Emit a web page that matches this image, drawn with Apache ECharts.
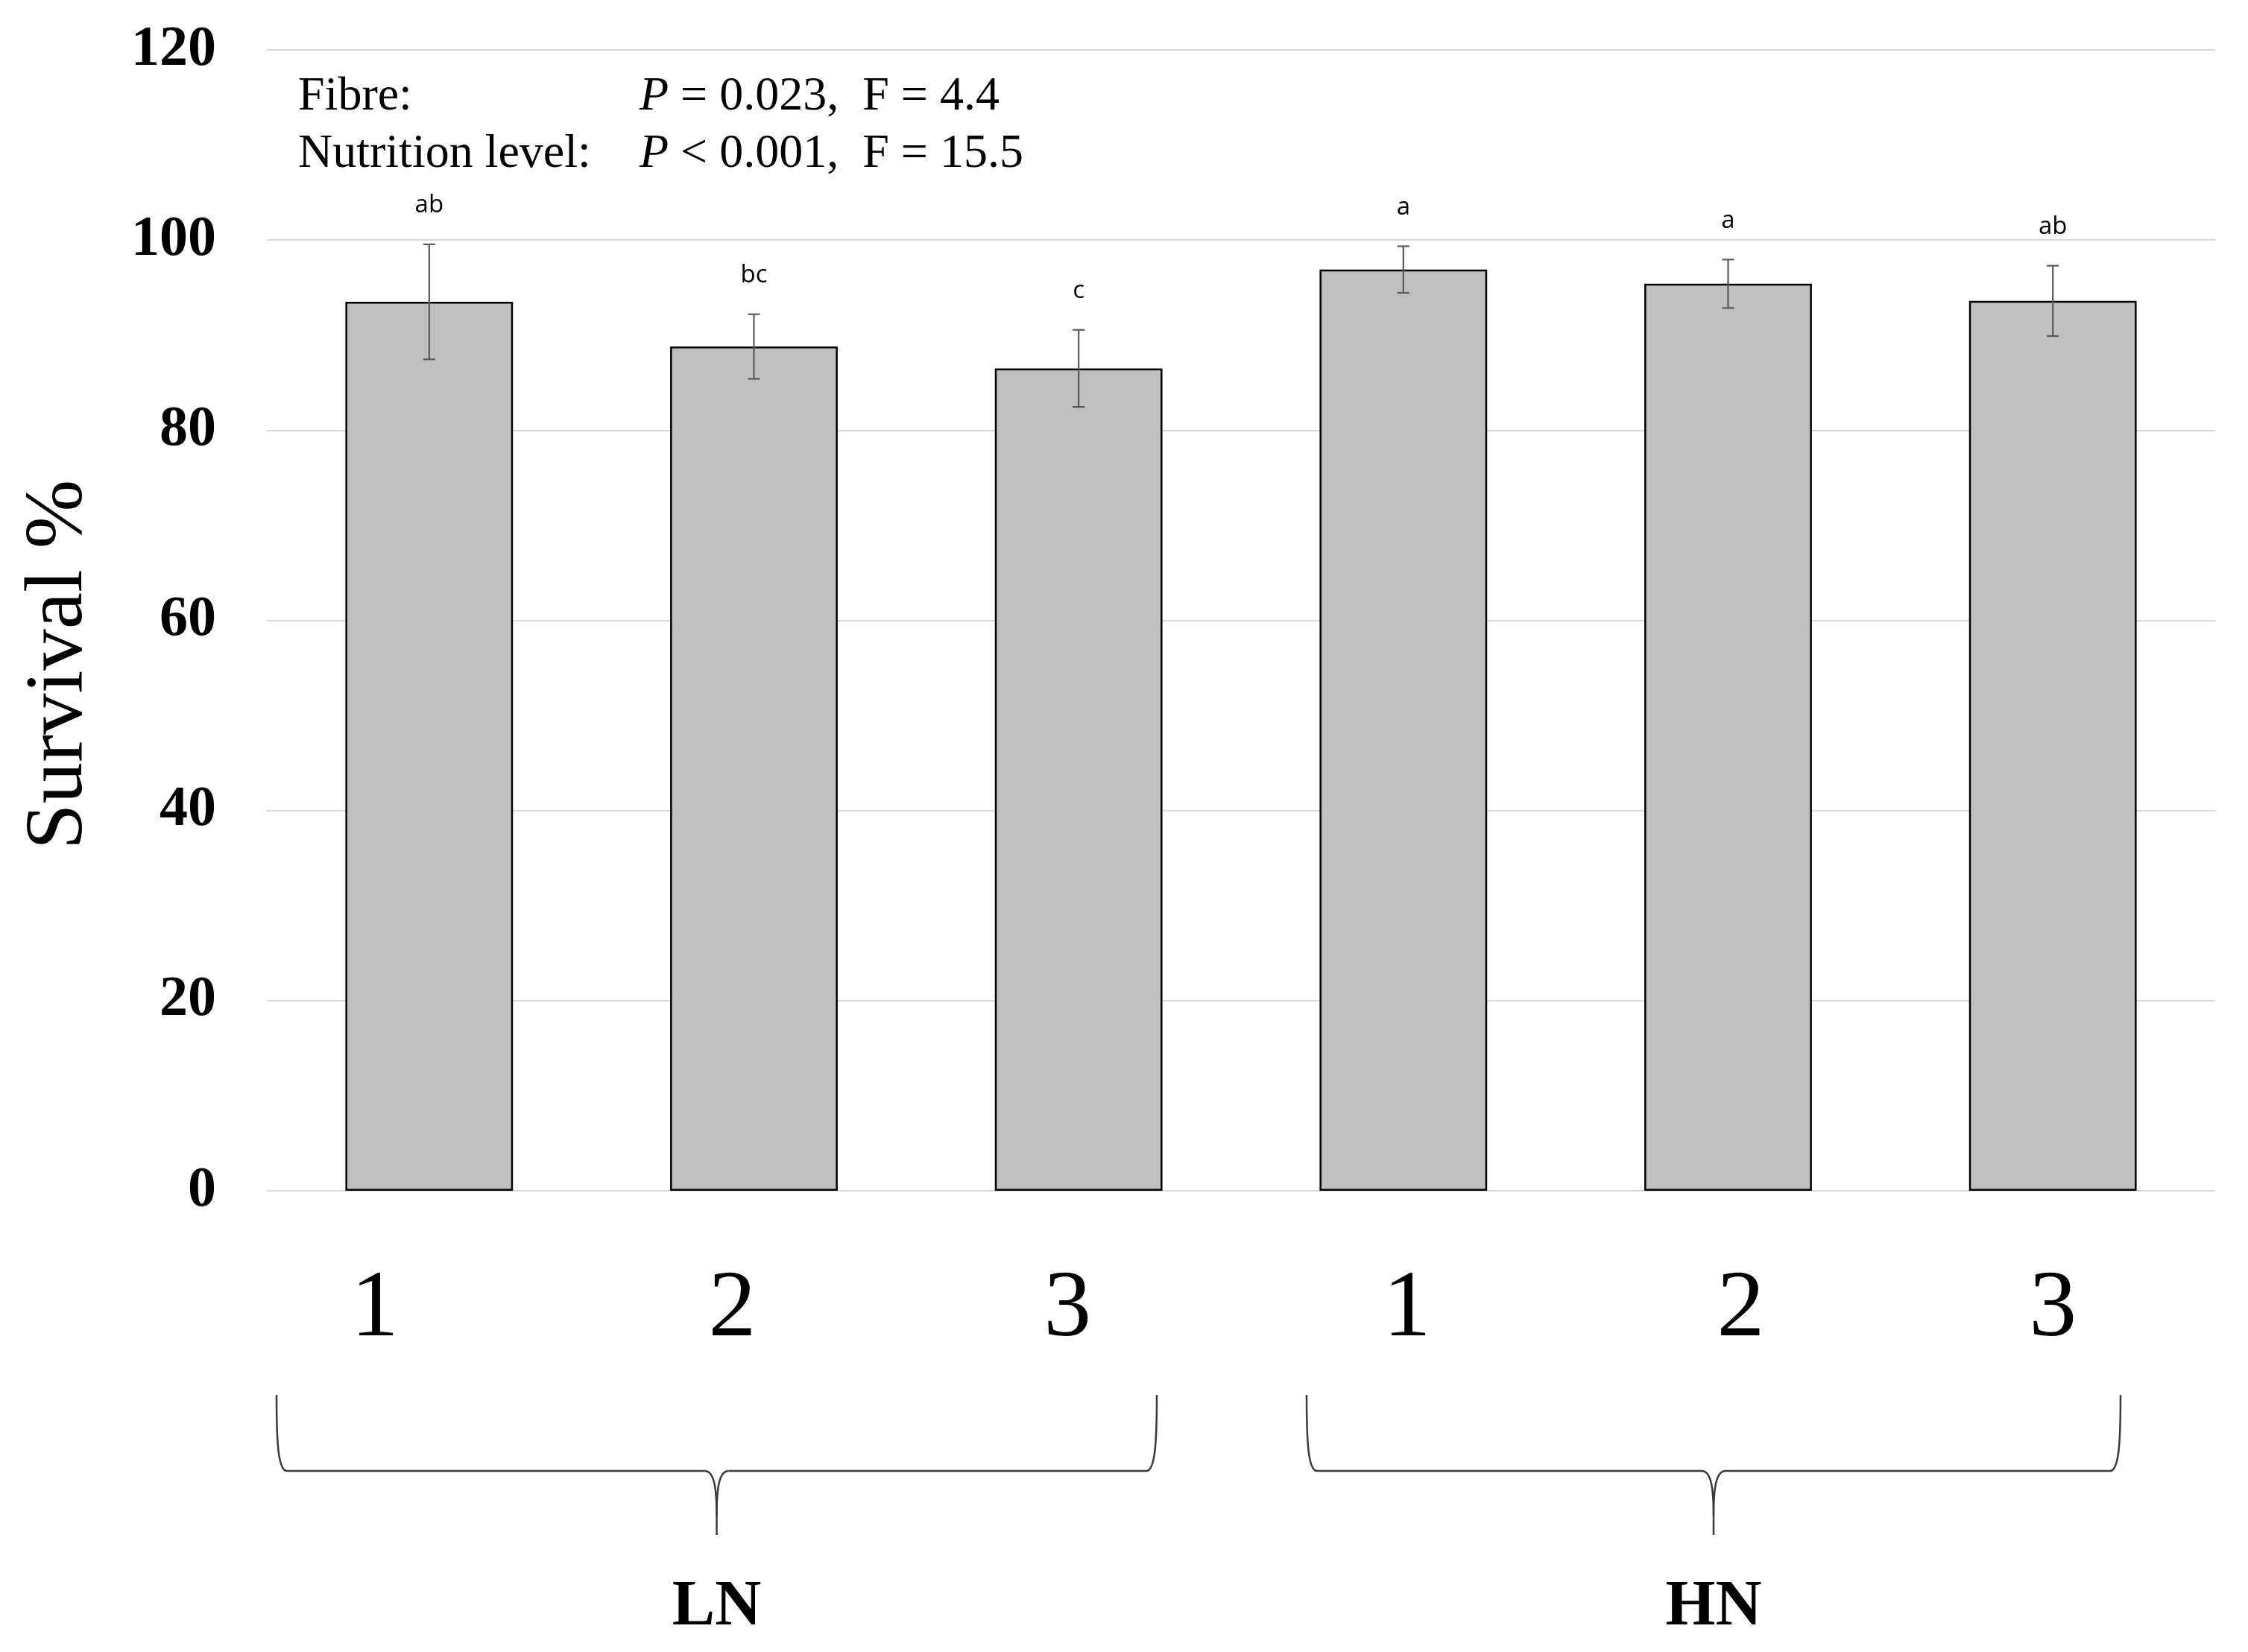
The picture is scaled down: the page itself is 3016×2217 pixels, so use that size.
<!DOCTYPE html>
<html>
<head>
<meta charset="utf-8">
<script src="https://cdn.jsdelivr.net/npm/echarts@6/dist/echarts.min.js"></script>
<style>html,body{margin:0;padding:0;background:#fff}#c{width:3016px;height:2217px}</style>
</head>
<body>
<div id="c"></div>
<script>
const categories = ['1', '2', '3', '1', '2', '3'];
const survival = [93.5, 88.8, 86.5, 96.9, 95.4, 93.6];
const errors = [6.05, 3.4, 4.05, 2.45, 2.55, 3.7];
const letters = ['ab', 'bc', 'c', 'a', 'a', 'ab'];
const groups = ['LN', 'HN'];
const statsLines = [
  ['Fibre:', '{i|P} = 0.023,  F = 4.4'],
  ['Nutrition level:', '{i|P} < 0.001,  F = 15.5']
];
const yAxisTitle = 'Survival %';

const serif = '"Liberation Serif", "Times New Roman", serif';
const chart = echarts.init(document.getElementById('c'), null, {renderer: 'canvas'});

const errData = survival.map((v, i) => [i, v, errors[i]]);

// horizontal nudges (px) of the category tick labels, as placed in the original figure
const labelNudge = [-73, -29, -15, 5, 17, 0];
const labelRich = {};
labelNudge.forEach((d, i) => {
  labelRich['l' + i] = {fontSize: 128, fontFamily: serif, color: '#000',
    padding: d < 0 ? [0, -2 * d, 0, 0] : [0, 0, 0, 2 * d]};
});

function braceParts(L, R, T, Y, tip) {
  const M = (L + R) / 2;
  const st = {stroke: '#3a3a3a', lineWidth: 2.5, fill: null};
  const z = 10;
  return [
    {type: 'bezierCurve', z, shape: {x1: L, y1: T, cpx1: L, cpy1: Y - 40, cpx2: L + 2, cpy2: Y, x2: L + 14, y2: Y}, style: st},
    {type: 'line', z, shape: {x1: L + 14, y1: Y, x2: M - 16, y2: Y}, style: st},
    {type: 'bezierCurve', z, shape: {x1: M - 16, y1: Y, cpx1: M - 4, cpy1: Y, cpx2: M, cpy2: Y + 20, x2: M, y2: Y + 60}, style: st},
    {type: 'line', z, shape: {x1: M, y1: Y + 60, x2: M, y2: tip}, style: st},
    {type: 'bezierCurve', z, shape: {x1: M + 16, y1: Y, cpx1: M + 4, cpy1: Y, cpx2: M, cpy2: Y + 20, x2: M, y2: Y + 60}, style: st},
    {type: 'line', z, shape: {x1: M + 16, y1: Y, x2: R - 14, y2: Y}, style: st},
    {type: 'bezierCurve', z, shape: {x1: R, y1: T, cpx1: R, cpy1: Y - 40, cpx2: R - 2, cpy2: Y, x2: R - 14, y2: Y}, style: st}
  ];
}

const graphics = [];
statsLines.forEach((ln, k) => {
  graphics.push({type: 'text', x: 400, y: 130 + k * 77, z: 10,
    style: {text: ln[0], fontSize: 64, fontFamily: serif, fill: '#000', verticalAlign: 'middle'}});
  graphics.push({type: 'text', x: 858, y: 130 + k * 77, z: 10,
    style: {text: ln[1], fontSize: 64, fontFamily: serif, fill: '#000', verticalAlign: 'middle',
      rich: {i: {fontStyle: 'italic', fontSize: 64, fontFamily: serif, fill: '#000'}}}});
});
graphics.push({type: 'text', x: 80, y: 892, rotation: Math.PI / 2, z: 10,
  style: {text: yAxisTitle, fontSize: 111, fontFamily: serif, fill: '#000', align: 'center', verticalAlign: 'middle'}});
const braceSpans = [[371, 1552], [1753, 2845]];
braceSpans.forEach((s, k) => {
  braceParts(s[0], s[1], 1872, 1974, 2060).forEach(p => graphics.push(p));
  graphics.push({type: 'text', x: (s[0] + s[1]) / 2, y: 2158, z: 10,
    style: {text: groups[k], fontSize: 86, fontWeight: 'bold', fontFamily: serif, fill: '#000', align: 'center', verticalAlign: 'middle'}});
});

chart.setOption({
  animation: false,
  backgroundColor: '#fff',
  grid: {left: 358, right: 44, top: 67, bottom: 619, containLabel: false},
  xAxis: {
    type: 'category', data: categories,
    axisLine: {show: false}, axisTick: {show: false},
    axisLabel: {fontSize: 128, fontFamily: serif, color: '#000', margin: 160, verticalAlign: 'middle',
      formatter: (v, i) => '{l' + i + '|' + v + '}', rich: labelRich}
  },
  yAxis: {
    type: 'value', min: 0, max: 120, interval: 20,
    axisLine: {show: false}, axisTick: {show: false},
    axisLabel: {fontSize: 76, fontWeight: 'bold', fontFamily: serif, color: '#000', margin: 68},
    splitLine: {lineStyle: {color: '#d9d9d9', width: 2}}
  },
  series: [
    {
      type: 'bar', data: survival, barWidth: '51.6%',
      itemStyle: {color: '#bfbfbf', borderColor: '#000', borderWidth: 2.5}
    },
    {
      type: 'custom', data: errData, z: 5,
      renderItem: function (params, api) {
        const x = api.value(0), v = api.value(1), e = api.value(2);
        const top = api.coord([x, v + e]);
        const bot = api.coord([x, v - e]);
        const cw = 8;
        const st = {stroke: '#595959', lineWidth: 2.2};
        return {type: 'group', children: [
          {type: 'line', shape: {x1: top[0], y1: top[1], x2: bot[0], y2: bot[1]}, style: st},
          {type: 'line', shape: {x1: top[0] - cw, y1: top[1], x2: top[0] + cw, y2: top[1]}, style: st},
          {type: 'line', shape: {x1: bot[0] - cw, y1: bot[1], x2: bot[0] + cw, y2: bot[1]}, style: st},
          {type: 'text', style: {text: letters[params.dataIndex], x: top[0], y: top[1] - 52,
            align: 'center', verticalAlign: 'middle', fontSize: 33, fontFamily: '"Open Sans", "DejaVu Sans", sans-serif', fill: '#000'}}
        ]};
      }
    }
  ],
  graphic: graphics
});
</script>
</body>
</html>
